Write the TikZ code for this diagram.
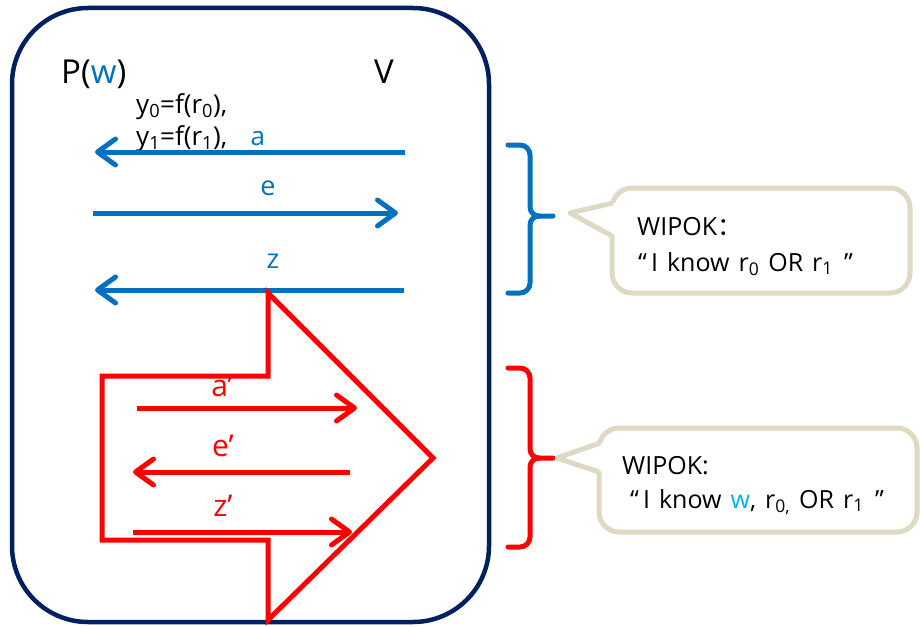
\documentclass[tikz,border=0pt]{standalone}
\usepackage{fontspec}
\setmainfont{Open Sans}
\newfontfamily\cjkfont{Noto Sans CJK SC}
\usetikzlibrary{arrows.meta}
\definecolor{navy}{HTML}{002060}
\definecolor{ablue}{HTML}{0070C0}
\definecolor{ared}{HTML}{FF0000}
\definecolor{beige}{HTML}{DDD9C3}
\definecolor{sky}{HTML}{00B0F0}
\newcommand{\widesp}{\spaceskip=0.36em\relax}
\begin{document}
\begin{tikzpicture}[x=1pt,y=-1pt,
  msgblue/.style={draw=ablue,line width=5pt,-{Straight Barb[round,length=18pt,width=26pt]}},
  msgred/.style={draw=ared,line width=5pt,-{Straight Barb[round,length=18pt,width=26pt]}},
  bluelbl/.style={text=ablue,font=\fontsize{27}{30}\selectfont,inner sep=0pt},
  redlbl/.style={text=ared,font=\fontsize{30}{34}\selectfont,inner sep=0pt},
  txt/.style={font=\fontsize{26}{30}\selectfont,inner sep=0pt,anchor=base west},
  calltxt/.style={font=\fontsize{25}{28}\selectfont,inner sep=0pt,anchor=base west},
  callout/.style={draw=beige,line width=5pt,line join=round},
  brace/.style={line width=5pt,line cap=round,line join=round}]
\useasboundingbox (0,0) rectangle (920,626);
% main frame
\draw[navy,line width=4.5pt,rounded corners=76pt] (12,8) rectangle (489,622);
% headers
\node[font=\fontsize{33}{36}\selectfont,inner sep=0pt,anchor=base west] (P) at (61,83) {P(\textcolor{ablue}{w})};
\node[font=\fontsize{33}{36}\selectfont,inner sep=0pt,anchor=base west] (V) at (374,83) {V};
\node[txt] (y0) at (136,113) {y\textsubscript{0}=f(r\textsubscript{0}),};
\node[txt] (y1) at (136,145) {y\textsubscript{1}=f(r\textsubscript{1}),\hspace{0.9em}\textcolor{ablue}{a}};
% blue messages
\coordinate (a1) at (405,152); \coordinate (a2) at (95,152);
\coordinate (e1) at (93,213);  \coordinate (e2) at (398,213);
\coordinate (z1) at (404,290); \coordinate (z2) at (95,290);
\draw[msgblue] (a1) -- (a2);
\draw[msgblue] (e1) -- (e2);
\draw[msgblue] (z1) -- (z2);
\node[bluelbl] (le) at (268,188) {e};
\node[bluelbl] (lz) at (273,261) {z};
% red big arrow
\draw[ared,line width=5pt,line join=miter] (102,376) -- (268,376) -- (268,293) -- (433,458) -- (268,620) -- (268,540) -- (102,540) -- cycle;
\coordinate (ra1) at (137,408); \coordinate (ra2) at (357,408);
\coordinate (re1) at (350,472); \coordinate (re2) at (133,472);
\coordinate (rz1) at (133,532); \coordinate (rz2) at (352,532);
\draw[msgred] (ra1) -- (ra2);
\draw[msgred] (re1) -- (re2);
\draw[msgred] (rz1) -- (rz2);
\node[redlbl] (la) at (222,386) {a’};
\node[redlbl] (lep) at (223,446) {e’};
\node[redlbl] (lzp) at (223,506) {z’};
% braces
\draw[brace,ablue] (508,145) -- (520,145) to[out=0,in=90] (530,155) -- (530,207) to[out=-90,in=180] (539,216) -- (553,216);
\draw[brace,ablue] (539,216) to[out=180,in=90] (530,225) -- (530,283) to[out=-90,in=0] (520,293) -- (508,293);
\draw[brace,ared] (508,368) -- (520,368) to[out=0,in=90] (530,378) -- (530,449) to[out=-90,in=180] (539,458) -- (553,458);
\draw[brace,ared] (539,458) to[out=180,in=90] (530,467) -- (530,537) to[out=-90,in=0] (520,547) -- (508,547);
% callout 1
\draw[callout,rounded corners=20pt] (612,188) rectangle (910,293);
\fill[white] (616,203) -- (570,213) -- (616,236) -- cycle;
\draw[callout] (613,203) -- (570,213) -- (612,236);
\node[calltxt] (w1) at (637,235) {WIPOK{\cjkfont ：}};
\node[calltxt] (w1b) at (638,271) {\widesp “\,I know r\textsubscript{0} OR r\textsubscript{1}\hspace{0.45em}”};
% callout 2
\draw[callout,rounded corners=20pt] (599,428) rectangle (917,532);
\fill[white] (603,443) -- (557,458) -- (603,472) -- cycle;
\draw[callout] (600,443) -- (557,458) -- (599,472);
\node[calltxt] (w2) at (622,474) {WIPOK:};
\node[calltxt] (w2b) at (630,508) {\widesp “\,I know \textcolor{sky}{w}, r\textsubscript{0,} OR r\textsubscript{1}\hspace{0.45em}”};
\end{tikzpicture}
\end{document}
